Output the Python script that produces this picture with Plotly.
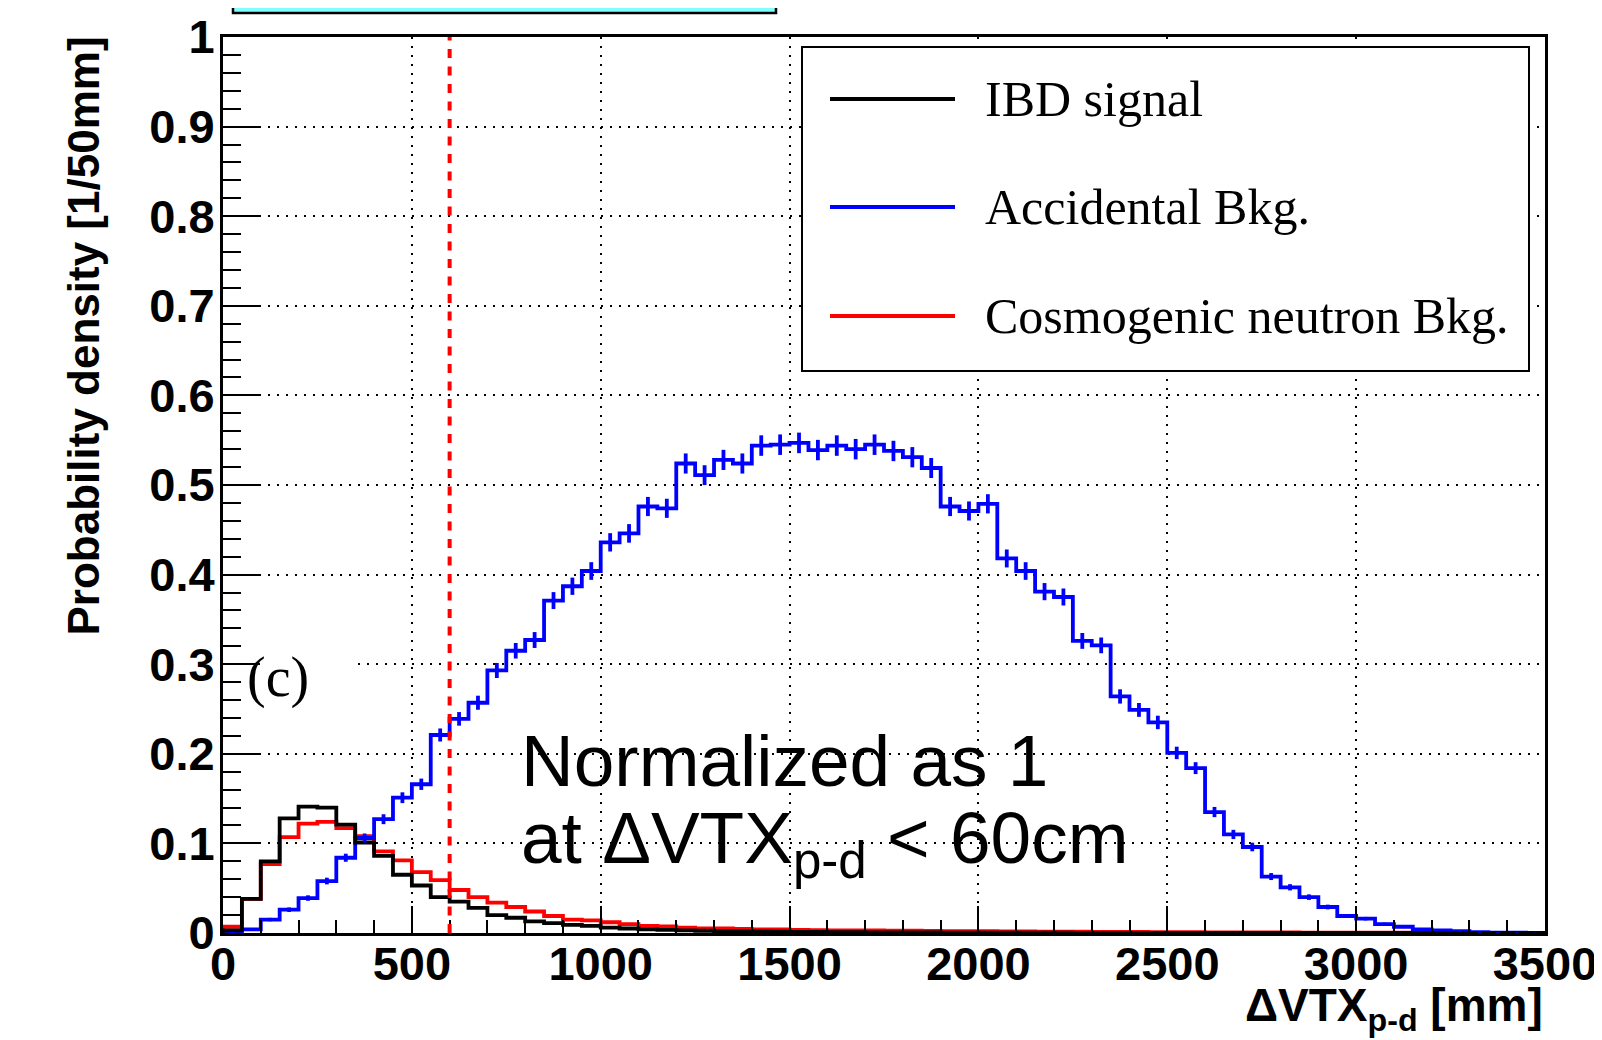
import numpy as np
import plotly.graph_objects as go

# ---------------- data ----------------
BIN_WIDTH_MM = 50
X_RANGE_MM = [0, 3500]
Y_RANGE = [0, 1]
CUT_MM = 600

series_names = ["IBD signal", "Accidental Bkg.", "Cosmogenic neutron Bkg."]
series_colors = ["#000000", "#0000FF", "#FF0000"]

# probability density per 50 mm bin, bins start at 0 mm
ibd_signal = [
    0.003, 0.038, 0.080, 0.128, 0.141, 0.140, 0.121, 0.101, 0.086, 0.065,
    0.053, 0.040, 0.035, 0.028, 0.020, 0.017, 0.013, 0.011, 0.009, 0.008,
    0.006, 0.005, 0.004, 0.0035, 0.003, 0.0025, 0.002, 0.002, 0.0017, 0.0015,
    0.0013, 0.0012, 0.0010, 0.0010, 0.0008, 0.0007, 0.0006, 0.0006, 0.0005, 0.0005,
    0.0004, 0.0004, 0.0003, 0.0003, 0.0003, 0.0002, 0.0002, 0.0002, 0.0002, 0.0001,
    0.0001, 0.0001, 0.0001, 0.0001, 0.0001, 0.0001, 0.0, 0.0, 0.0, 0.0,
    0.0, 0.0, 0.0, 0.0, 0.0, 0.0, 0.0, 0.0, 0.0, 0.0,
]
accidental_bkg = [
    0.001, 0.004, 0.015, 0.026, 0.039, 0.058, 0.084, 0.106, 0.127, 0.151,
    0.166, 0.221, 0.239, 0.257, 0.293, 0.315, 0.327, 0.371, 0.387, 0.404,
    0.436, 0.446, 0.476, 0.474, 0.524, 0.511, 0.528, 0.524, 0.544, 0.545,
    0.547, 0.539, 0.544, 0.540, 0.545, 0.538, 0.531, 0.519, 0.476, 0.471,
    0.479, 0.418, 0.404, 0.381, 0.375, 0.326, 0.321, 0.264, 0.249, 0.235,
    0.201, 0.184, 0.135, 0.110, 0.096, 0.063, 0.051, 0.040, 0.029, 0.019,
    0.016, 0.010, 0.007, 0.004, 0.003, 0.002, 0.001, 0.0005, 0.0003, 0.0001,
]
cosmogenic_bkg = [
    0.007, 0.038, 0.077, 0.107, 0.122, 0.124, 0.117, 0.108, 0.091, 0.081,
    0.068, 0.059, 0.048, 0.040, 0.034, 0.029, 0.024, 0.019, 0.015, 0.014,
    0.012, 0.010, 0.008, 0.0075, 0.006, 0.005, 0.005, 0.0045, 0.004, 0.004,
    0.0035, 0.0033, 0.003, 0.003, 0.0028, 0.0027, 0.0025, 0.0024, 0.0022, 0.002,
    0.002, 0.0018, 0.0017, 0.0016, 0.0015, 0.0014, 0.0013, 0.0012, 0.0011, 0.001,
    0.001, 0.0009, 0.0008, 0.0008, 0.0007, 0.0006, 0.0006, 0.0005, 0.0005, 0.0004,
    0.0004, 0.0003, 0.0003, 0.0003, 0.0002, 0.0002, 0.0002, 0.0001, 0.0001, 0.0001,
]
# relative statistical error scale of the accidental sample (error ~ k*sqrt(density))
ACC_ERR_SCALE = 0.0155

x_tick_vals = [0, 500, 1000, 1500, 2000, 2500, 3000, 3500]
x_tick_text = ["0", "500", "1000", "1500", "2000", "2500", "3000", "3500"]
y_tick_vals = [0, 0.1, 0.2, 0.3, 0.4, 0.5, 0.6, 0.7, 0.8, 0.9, 1.0]
y_tick_text = ["0", "0.1", "0.2", "0.3", "0.4", "0.5", "0.6", "0.7", "0.8", "0.9", "1"]

y_title = "Probability density [1/50mm]"
x_title = "ΔVTX<sub>p-d</sub> [mm]"
panel_label = "(c)"
note_line1 = "Normalized as 1"
note_line2 = "at ΔVTX<sub>p-d</sub> &lt; 60cm"

# ---------------- layout geometry (page pixels) ----------------
PAGE_OFFSET = 8          # default body margin of the html page
FIG_W, FIG_H = 1602 - PAGE_OFFSET, 1040 - PAGE_OFFSET
L, R, T, B = 223, 1545, 37, 933   # plot frame in page pixels
PW, PH = R - L, B - T


def px2x(px):
    return (px - L) / PW


def py2y(py):
    return (B - py) / PH


SANS = "Liberation Sans"
SERIF = "Liberation Serif"
LW = 3.8


def step_xy(values):
    v = np.asarray(values, dtype=float)
    edges = X_RANGE_MM[0] + np.arange(len(v) + 1) * BIN_WIDTH_MM
    xs = np.concatenate([[edges[0]], edges])
    ys = np.concatenate([[0.0], v, [v[-1]]])
    return xs, ys


fig = go.Figure()

order = [(2, cosmogenic_bkg), (1, accidental_bkg), (0, ibd_signal)]
for idx, vals in order:
    xs, ys = step_xy(vals)
    fig.add_trace(go.Scatter(
        x=xs, y=ys, mode="lines", line=dict(color=series_colors[idx], width=LW, shape="hv"),
        name=series_names[idx], showlegend=False, hoverinfo="skip",
    ))

# error bars of accidental background
acc = np.asarray(accidental_bkg)
centers = X_RANGE_MM[0] + (np.arange(len(acc)) + 0.5) * BIN_WIDTH_MM
acc_err = ACC_ERR_SCALE * np.sqrt(acc)
fig.add_trace(go.Scatter(
    x=centers, y=acc, mode="markers", marker=dict(size=1, color=series_colors[1]),
    error_y=dict(type="data", array=acc_err, width=0, thickness=LW, color=series_colors[1]),
    showlegend=False, hoverinfo="skip",
))

shapes = []
# title box (cut off at the top)
shapes.append(dict(type="rect", xref="paper", yref="paper",
                   x0=px2x(233), x1=px2x(776), y0=py2y(13), y1=py2y(-30),
                   fillcolor="#80FFFF", line=dict(color="black", width=2.5), layer="above"))
# white patch behind the panel label
shapes.append(dict(type="rect", xref="x", yref="y", x0=5, x1=345, y0=0.245, y1=0.33,
                   fillcolor="white", line=dict(width=0), layer="between"))
# cut line
shapes.append(dict(type="line", xref="x", yref="y", x0=CUT_MM, x1=CUT_MM, y0=Y_RANGE[0], y1=Y_RANGE[1],
                   line=dict(color="#FF0000", width=4, dash="9px,8.5px"), layer="above"))
# legend box
shapes.append(dict(type="rect", xref="paper", yref="paper",
                   x0=px2x(802), x1=px2x(1529), y0=py2y(371), y1=py2y(47),
                   fillcolor="white", line=dict(color="black", width=2), layer="above"))
legend_rows_px = [99, 207, 316]
annotations = []
for i, ry in enumerate(legend_rows_px):
    shapes.append(dict(type="line", xref="paper", yref="paper",
                       x0=px2x(830), x1=px2x(955), y0=py2y(ry), y1=py2y(ry),
                       line=dict(color=series_colors[i], width=LW), layer="above"))
    annotations.append(dict(text=series_names[i], xref="paper", yref="paper",
                            x=px2x(983), y=py2y(ry), xanchor="left", yanchor="middle",
                            showarrow=False, font=dict(family=SERIF, size=50, color="black")))

annotations += [
    dict(text=y_title, xref="paper", yref="paper", x=px2x(83), y=py2y(35),
         xanchor="center", yanchor="top", textangle=-90, showarrow=False,
         font=dict(family=SANS, size=44, color="black", weight="bold")),
    dict(text=x_title, xref="paper", yref="paper", x=1.0, y=py2y(1008),
         xanchor="right", yanchor="middle", showarrow=False,
         font=dict(family=SANS, size=46, color="black", weight="bold")),
    dict(text=panel_label, xref="paper", yref="paper", x=px2x(245), y=py2y(677),
         xanchor="left", yanchor="middle", showarrow=False,
         font=dict(family=SERIF, size=56, color="black")),
    dict(text=note_line1, xref="paper", yref="paper", x=px2x(519), y=py2y(760),
         xanchor="left", yanchor="middle", showarrow=False,
         font=dict(family=SANS, size=73, color="black")),
    dict(text=note_line2, xref="paper", yref="paper", x=px2x(519), y=py2y(843),
         xanchor="left", yanchor="middle", showarrow=False,
         font=dict(family=SANS, size=73, color="black")),
]

tickfont = dict(family=SANS, size=47, color="black", weight="bold")
common_axis = dict(showline=True, linecolor="black", linewidth=3, mirror=True,
                   ticks="inside", tickwidth=2, tickcolor="black",
                   showgrid=True, gridcolor="black", gridwidth=2, griddash="2px,7px",
                   zeroline=False, tickfont=tickfont, tickmode="array")

fig.update_layout(
    width=FIG_W, height=FIG_H,
    margin=dict(l=L - PAGE_OFFSET, r=FIG_W - (R - PAGE_OFFSET), t=T - PAGE_OFFSET,
                b=FIG_H - (B - PAGE_OFFSET), autoexpand=False),
    paper_bgcolor="white", plot_bgcolor="white",
    showlegend=False,
    xaxis=dict(range=X_RANGE_MM, tickvals=x_tick_vals, ticktext=x_tick_text, ticklen=27,
               ticklabelstandoff=-12,
               minor=dict(dtick=100, tick0=0, ticks="inside", ticklen=13, tickwidth=2,
                          tickcolor="black", showgrid=False),
               **common_axis),
    yaxis=dict(range=Y_RANGE, tickvals=y_tick_vals, ticktext=y_tick_text, ticklen=37,
               ticklabelstandoff=-4,
               minor=dict(dtick=0.02, tick0=0, ticks="inside", ticklen=18, tickwidth=2,
                          tickcolor="black", showgrid=False),
               **common_axis),
    shapes=shapes,
    annotations=annotations,
)

fig.write_html("out.html")
